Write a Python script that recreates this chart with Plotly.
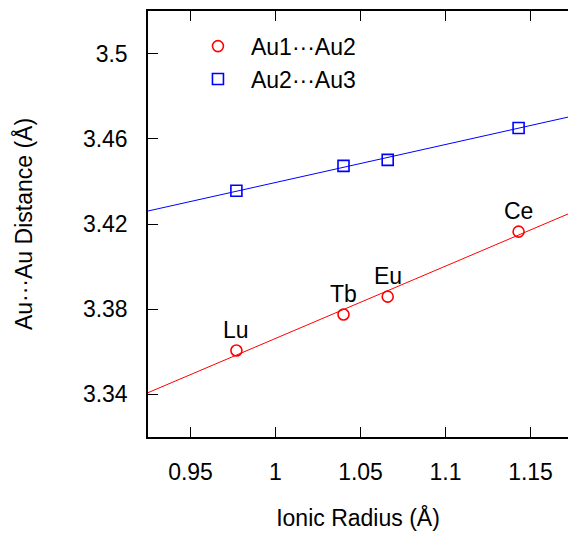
import plotly.graph_objects as go

# Data
elements = ["Lu", "Tb", "Eu", "Ce"]
ionic_radius = [0.977, 1.040, 1.066, 1.143]
au1_au2 = [3.3606, 3.3775, 3.3859, 3.4164]
au2_au3 = [3.4356, 3.4473, 3.4501, 3.4651]

# Linear-fit lines (endpoints)
fit_x = [0.925, 1.175]
fit_au1_au2 = [3.3408, 3.4257]
fit_au2_au3 = [3.4261, 3.4707]

x_tickvals = [0.95, 1.00, 1.05, 1.10, 1.15]
x_ticktext = ["0.95", "1", "1.05", "1.1", "1.15"]
y_tickvals = [3.34, 3.38, 3.42, 3.46, 3.50]
y_ticktext = ["3.34", "3.38", "3.42", "3.46", "3.5"]

FONT = "Arial, Liberation Sans, sans-serif"
FS = 23

fig = go.Figure()

fig.add_trace(go.Scatter(x=fit_x, y=fit_au1_au2, mode="lines",
                         line=dict(color="#ff0000", width=1), showlegend=False,
                         hoverinfo="skip"))
fig.add_trace(go.Scatter(x=fit_x, y=fit_au2_au3, mode="lines",
                         line=dict(color="#0000ff", width=1), showlegend=False,
                         hoverinfo="skip"))
fig.add_trace(go.Scatter(x=ionic_radius, y=au1_au2, mode="markers",
                         name="Au1···Au2", legendgroup="a",
                         marker=dict(symbol="circle-open", size=11, color="#ff0000",
                                     line=dict(width=1.6, color="#ff0000"))))
fig.add_trace(go.Scatter(x=ionic_radius, y=au2_au3, mode="markers",
                         name="Au2···Au3", legendgroup="b",
                         marker=dict(symbol="square-open", size=11, color="#0000ff",
                                     line=dict(width=1.6, color="#0000ff"))))

for el, xv, yv in zip(elements, ionic_radius, au1_au2):
    fig.add_annotation(x=xv, y=yv, text=el, showarrow=False, yanchor="middle",
                       yshift=21, font=dict(family=FONT, size=FS, color="black"))

fig.update_layout(
    width=568, height=535,
    margin=dict(l=148, r=0, t=11, b=98),
    paper_bgcolor="white", plot_bgcolor="white",
    font=dict(family=FONT, size=FS, color="black"),
    legend=dict(x=0.088, y=0.968, xanchor="left", yanchor="top",
                font=dict(family=FONT, size=FS), tracegroupgap=0, itemwidth=56,
                traceorder="grouped", bgcolor="rgba(0,0,0,0)"),
    xaxis=dict(range=[0.925, 0.925 + 420 / 1700], tickvals=x_tickvals, ticktext=x_ticktext,
               ticks="inside", ticklen=10, tickwidth=1.2, tickcolor="black",
               showline=True, linecolor="black", linewidth=1.5, mirror="ticks",
               showgrid=False, zeroline=False, ticklabelstandoff=14,
               title=dict(text="Ionic Radius (Å)", standoff=26,
                          font=dict(family=FONT, size=FS))),
    yaxis=dict(range=[3.32, 3.52], tickvals=y_tickvals, ticktext=y_ticktext,
               ticks="inside", ticklen=10, tickwidth=1.2, tickcolor="black",
               showline=True, linecolor="black", linewidth=1.5,
               showgrid=False, zeroline=False, ticklabelstandoff=14,
               title=dict(text="Au···Au Distance (Å)", standoff=44,
                          font=dict(family=FONT, size=FS))),
    yaxis2=dict(range=[3.32, 3.52], overlaying="y", side="right",
                tickvals=y_tickvals, ticks="inside", ticklen=6, tickwidth=1.2,
                tickcolor="black", showticklabels=False, showline=False,
                showgrid=False, zeroline=False),
)

fig.write_html("out.html")
